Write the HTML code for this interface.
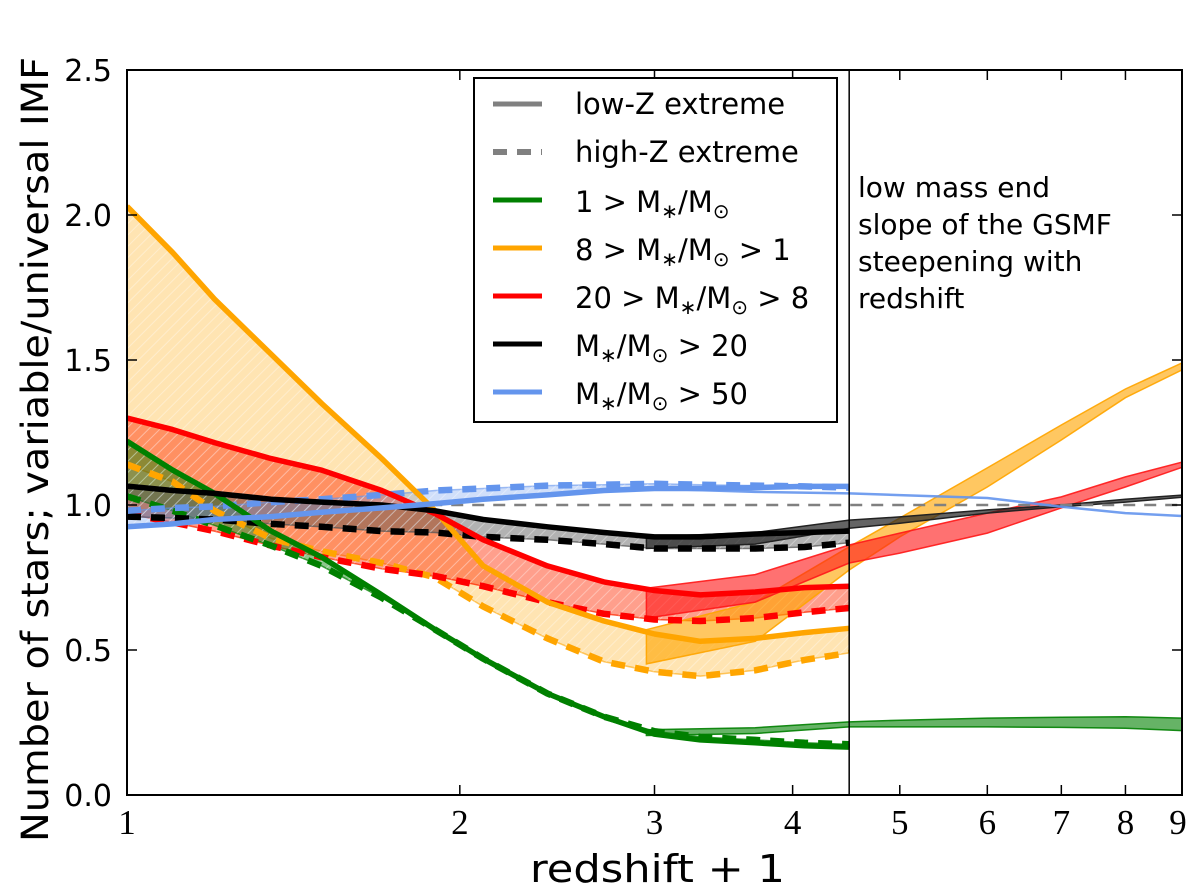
<!DOCTYPE html>
<html><head><meta charset="utf-8"><style>
html,body{margin:0;padding:0;background:#fff;}
svg text{font-family:"DejaVu Sans","Liberation Sans",sans-serif;}
</style></head><body>
<svg id="chart" width="1200" height="891" viewBox="0 0 1200 891" xmlns="http://www.w3.org/2000/svg">
<defs>
<pattern id="hatch" width="8" height="8" patternUnits="userSpaceOnUse" patternTransform="rotate(45)">
<line x1="0" y1="0" x2="0" y2="8" stroke="#fff" stroke-width="2" stroke-opacity="0.35"/>
</pattern>
<clipPath id="plotclip"><rect x="127" y="70" width="1055" height="725"/></clipPath>
</defs>
<g id="bands" clip-path="url(#plotclip)"></g>
<g id="lines" clip-path="url(#plotclip)"></g>
<g id="axes"></g>
</svg>
<script>
// ---- data ----
const zLeft = [1, 1.1, 1.2, 1.35, 1.5, 1.7, 1.9, 2.1, 2.4, 2.7, 3.0, 3.3, 3.7, 4.1, 4.5];
const orangeSolid = [2.03,1.87,1.71,1.52,1.35,1.16,0.98,0.79,0.665,0.60,0.555,0.53,0.54,0.56,0.575];
const orangeDash  = [1.14,1.08,0.98,0.885,0.84,0.80,0.75,0.65,0.54,0.46,0.425,0.41,0.43,0.466,0.49];
const redSolid    = [1.30,1.26,1.215,1.16,1.12,1.05,0.97,0.88,0.79,0.735,0.705,0.69,0.70,0.715,0.72];
const redDash     = [0.97,0.94,0.91,0.86,0.82,0.78,0.755,0.72,0.665,0.625,0.605,0.60,0.61,0.63,0.645];
const greenSolid  = [1.22,1.12,1.04,0.91,0.82,0.69,0.57,0.47,0.35,0.27,0.21,0.19,0.18,0.17,0.165];
const greenDash   = [1.03,0.98,0.93,0.86,0.79,0.68,0.57,0.47,0.35,0.27,0.22,0.20,0.19,0.18,0.175];
const blackSolid  = [1.065,1.05,1.04,1.02,1.01,1.0,0.98,0.95,0.925,0.905,0.89,0.89,0.90,0.905,0.91];
const blackDash   = [0.96,0.955,0.95,0.935,0.925,0.91,0.905,0.89,0.88,0.865,0.85,0.85,0.85,0.855,0.87];
const blueSolid   = [0.925,0.935,0.95,0.96,0.975,0.99,1.005,1.02,1.035,1.05,1.057,1.057,1.06,1.064,1.064];
const blueDash    = [0.98,0.99,0.995,1.01,1.02,1.035,1.05,1.057,1.067,1.07,1.073,1.07,1.067,1.064,1.06];

const zRight = [2.95, 3.7, 4.5, 5, 6, 7, 8, 9];
const orangeHi = [0.57,0.665,0.856,0.955,1.128,1.276,1.40,1.49];
const orangeLo = [0.452,0.53,0.776,0.89,1.062,1.224,1.37,1.466];
const redHi    = [0.713,0.76,0.862,0.903,0.972,1.028,1.097,1.148];
const redLo    = [0.61,0.665,0.80,0.834,0.903,0.99,1.062,1.13];
const blackHi  = [0.89,0.905,0.948,0.959,0.983,1.0,1.02,1.034];
const blackLo  = [0.85,0.865,0.92,0.937,0.972,0.994,1.01,1.027];
const greenHi  = [0.225,0.232,0.252,0.258,0.265,0.268,0.27,0.265];
const greenLo  = [0.205,0.212,0.235,0.235,0.235,0.233,0.23,0.222];
const blueThin = [1.057,1.045,1.04,1.034,1.024,0.994,0.972,0.962];

const yTicks = [0.0, 0.5, 1.0, 1.5, 2.0, 2.5];
const yTickLabels = ["0.0","0.5","1.0","1.5","2.0","2.5"];
const xTicks = [1,2,3,4,5,6,7,8,9];
const xTickLabels = ["1","2","3","4","5","6","7","8","9"];

// ---- scales ----
const X0=127, X1=1182, Y0=795, Y1=70;
function xs(z){return X0+(X1-X0)*Math.log(z)/Math.log(9);}
function ys(v){return Y0-(Y0-Y1)*v/2.5;}
const NS="http://www.w3.org/2000/svg";
function mk(tag,attrs,parent){const e=document.createElementNS(NS,tag);for(const k in attrs)e.setAttribute(k,attrs[k]);parent.appendChild(e);return e;}
function pts(zarr,varr){return zarr.map((z,i)=>xs(z).toFixed(1)+","+ys(varr[i]).toFixed(1));}
const bands=document.getElementById('bands'), lines=document.getElementById('lines'), axes=document.getElementById('axes');

function band(zarr,a,b,fill,op,hatch,name){
  const p=pts(zarr,a).concat(pts(zarr,b).reverse()).join(" ");
  const e=mk('polygon',{points:p,fill:fill,'fill-opacity':op,stroke:fill,'stroke-width':1.5,'stroke-opacity':Math.min(1,op+0.3)},bands);
  
  
  if(hatch){const h=mk('polygon',{points:p,fill:'url(#hatch)'},bands);
    
    }
}
function line(zarr,v,color,w,dash,name,op){
  const e=mk('polyline',{points:pts(zarr,v).join(" "),fill:'none',stroke:color,'stroke-width':w,'stroke-linejoin':'round','stroke-opacity':op||1},lines);
  if(dash)e.setAttribute('stroke-dasharray',dash);
  
  
}
band(zLeft,orangeSolid,orangeDash,'#ffa500',0.3,true,'orange-band-left');
band(zLeft,redSolid,redDash,'#ff2a00',0.45,true,'red-band-left');
band(zLeft,greenSolid,greenDash,'#008000',0.45,true,'green-band-left');
band(zLeft,blackSolid,blackDash,'#555555',0.45,true,'black-band-left');
band(zLeft,blueSolid,blueDash,'#6495ed',0.3,true,'blue-band-left');
band(zRight,orangeHi,orangeLo,'#ffa500',0.62,false,'orange-band-right');
band(zRight,redHi,redLo,'#ff1a1a',0.62,false,'red-band-right');
band(zRight,blackHi,blackLo,'#222222',0.7,false,'black-band-right');
band(zRight,greenHi,greenLo,'#008000',0.6,false,'green-band-right');
const ref=mk('line',{x1:xs(1.8),x2:X1,y1:ys(1),y2:ys(1),stroke:'#808080','stroke-width':2.5,'stroke-dasharray':'12,9'},lines);


line(zRight,blueThin,'#6495ed',2.5,null,'blue-line-right',0.9);
line(zLeft,orangeDash,'#ffa500',6.5,'14,10','orange-high-z-line');
line(zLeft,redDash,'#ff0000',6.5,'14,10','red-high-z-line');
line(zLeft,greenDash,'#008000',6.5,'14,10','green-high-z-line');
line(zLeft,blackDash,'#000000',6.5,'14,10','black-high-z-line');
line(zLeft,blueDash,'#6495ed',6.5,'14,10','blue-high-z-line');
line(zLeft,orangeSolid,'#ffa500',5.5,null,'orange-low-z-line');
line(zLeft,redSolid,'#ff0000',5.5,null,'red-low-z-line');
line(zLeft,greenSolid,'#008000',5.5,null,'green-low-z-line');
line(zLeft,blackSolid,'#000000',5.5,null,'black-low-z-line');
line(zLeft,blueSolid,'#6495ed',5.5,null,'blue-low-z-line');

const fr=mk('rect',{x:X0,y:Y1,width:X1-X0,height:Y0-Y1,fill:'none',stroke:'#000','stroke-width':2},axes);


const vl=mk('line',{x1:xs(4.5),x2:xs(4.5),y1:Y1,y2:Y0,stroke:'#000','stroke-width':1.5},axes);


yTicks.forEach((v,i)=>{
  mk('line',{x1:X0,x2:X0+10,y1:ys(v),y2:ys(v),stroke:'#000','stroke-width':1.5},axes);
  mk('line',{x1:X1-10,x2:X1,y1:ys(v),y2:ys(v),stroke:'#000','stroke-width':1.5},axes);
  const t=mk('text',{x:112,y:ys(v)+11,'text-anchor':'end','font-size':30},axes);
  t.textContent=yTickLabels[i];
  
  
});
xTicks.forEach((z,i)=>{
  mk('line',{x1:xs(z),x2:xs(z),y1:Y0,y2:Y0-10,stroke:'#000','stroke-width':1.5},axes);
  mk('line',{x1:xs(z),x2:xs(z),y1:Y1,y2:Y1+10,stroke:'#000','stroke-width':1.5},axes);
  const t=mk('text',{x:xs(z)-(z===9?4:0),y:834,'text-anchor':'middle','font-size':35},axes);
  t.setAttribute('style','font-family:"Liberation Serif",serif');
  t.textContent=xTickLabels[i];
  
  
});
</script>
<svg style="position:absolute;left:0;top:0" width="1200" height="891" xmlns="http://www.w3.org/2000/svg">
<text x="530" y="882" font-size="38" textLength="255" lengthAdjust="spacingAndGlyphs">redshift + 1</text>
<text transform="translate(48,842) rotate(-90)" font-size="37" textLength="785" lengthAdjust="spacingAndGlyphs">Number of stars; variable/universal IMF</text>
<g font-size="28">
<text x="858" y="197">low mass end</text>
<text x="858" y="234">slope of the GSMF</text>
<text x="858" y="271">steepening with</text>
<text x="858" y="308">redshift</text>
</g>
<g font-size="29">
<rect x="474" y="78" width="363" height="344" fill="#fff" stroke="#000" stroke-width="2"/>
<g><line x1="493" x2="542" y1="104" y2="104" stroke="#808080" stroke-width="5"/><text x="575" y="114">low-Z extreme</text></g>
<g><line x1="493" x2="542" y1="152" y2="152" stroke="#808080" stroke-width="6" stroke-dasharray="14,10"/><text x="575" y="162">high-Z extreme</text></g>
<g><line x1="493" x2="542" y1="200" y2="200" stroke="#008000" stroke-width="5"/><text x="575" y="212">1 &gt; M<tspan font-size="20" dy="6">∗</tspan><tspan dy="-6">/M</tspan><tspan font-size="20" dy="6">⊙</tspan></text></g>
<g><line x1="493" x2="542" y1="248" y2="248" stroke="#ffa500" stroke-width="5"/><text x="575" y="260">8 &gt; M<tspan font-size="20" dy="6">∗</tspan><tspan dy="-6">/M</tspan><tspan font-size="20" dy="6">⊙</tspan><tspan dy="-6"> &gt; 1</tspan></text></g>
<g><line x1="493" x2="542" y1="296" y2="296" stroke="#ff0000" stroke-width="5"/><text x="575" y="308">20 &gt; M<tspan font-size="20" dy="6">∗</tspan><tspan dy="-6">/M</tspan><tspan font-size="20" dy="6">⊙</tspan><tspan dy="-6"> &gt; 8</tspan></text></g>
<g><line x1="493" x2="542" y1="344" y2="344" stroke="#000" stroke-width="5"/><text x="575" y="356">M<tspan font-size="20" dy="6">∗</tspan><tspan dy="-6">/M</tspan><tspan font-size="20" dy="6">⊙</tspan><tspan dy="-6"> &gt; 20</tspan></text></g>
<g><line x1="493" x2="542" y1="392" y2="392" stroke="#6495ed" stroke-width="5"/><text x="575" y="404">M<tspan font-size="20" dy="6">∗</tspan><tspan dy="-6">/M</tspan><tspan font-size="20" dy="6">⊙</tspan><tspan dy="-6"> &gt; 50</tspan></text></g>
</g>
</svg>
</body></html>
